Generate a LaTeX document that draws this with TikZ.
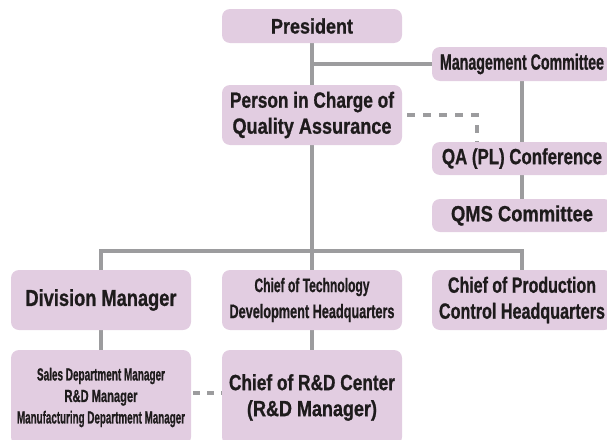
\documentclass[tikz,border=0pt]{standalone}
\usepackage{fontspec}
\setmainfont{Liberation Sans}[BoldFeatures={FakeBold=1.0}]
\usepackage{graphicx}
\usetikzlibrary{backgrounds}
\definecolor{boxfill}{HTML}{E2CDE1}
\definecolor{linegray}{HTML}{9C9C9E}
\definecolor{txt}{HTML}{1E1B1C}
\newcommand{\tw}[2]{\resizebox{#1pt}{\height}{#2}}
\begin{document}
\begin{tikzpicture}[x=1pt,y=-1pt,
  orgbox/.style={fill=boxfill, rounded corners=8pt, text=txt, align=center,
    inner sep=0pt, minimum width=180pt},
  big/.style={font=\fontsize{22}{26}\selectfont\bfseries},
  small/.style={font=\fontsize{19.5}{26}\selectfont\bfseries},
  tiny/.style={font=\fontsize{17.5}{21.5}\selectfont\bfseries},
  conn/.style={draw=linegray, line width=4.5pt},
  dconn/.style={draw=linegray, line width=4pt, dash pattern=on 8pt off 8pt}]
\useasboundingbox (0,0) rectangle (607,439);
\clip (0,0) rectangle (607,439);
\node[orgbox, big, minimum height=34pt, font=\fontsize{21}{20}\selectfont\bfseries] (pres) at (312,26) {\tw{82}{President}};
\node[orgbox, big, minimum height=60pt] (pic) at (312,115) {\tw{164}{Person in Charge of}\\\tw{159}{Quality Assurance}};
\node[orgbox, big, minimum height=34pt] (mgmt) at (522,64) {\tw{164}{Management Committee}};
\node[orgbox, big, minimum height=33pt] (qa) at (522,158.5) {\tw{160}{QA (PL) Conference}};
\node[orgbox, big, minimum height=33pt] (qms) at (522,215.5) {\tw{142}{QMS Committee}};
\node[orgbox, big, minimum height=60pt, font=\fontsize{23}{26}\selectfont\bfseries] (div) at (101,300) {\tw{151}{Division Manager}};
\node[orgbox, small, minimum height=60pt] (tech) at (312,300) {\tw{115}{Chief of Technology}\\\tw{165}{Development Headquarters}};
\node[orgbox, big, minimum height=60pt] (prod) at (522,300) {\tw{148}{Chief of Production}\\\tw{166}{Control Headquarters}};
\node[orgbox, tiny, minimum height=95pt] (sales) at (101,397.5) {\tw{128}{Sales Department Manager}\\\tw{73}{R\&D Manager}\\\tw{168}{Manufacturing Department Manager}};
\node[orgbox, big, minimum height=95pt] (rdc) at (312,397.5) {\tw{166}{Chief of R\&D Center}\\\tw{130}{(R\&D Manager)}};
\coordinate (dcorner) at (477,115);
\begin{scope}[on background layer]
\draw[conn] (pres.south) -- (tech.north);
\draw[conn] (mgmt.west) -- (mgmt.west -| pres.south);
\draw[conn] (mgmt.south) -- (qa.north);
\draw[conn] (qa.south) -- (qms.north);
\draw[conn] (div.north) -- ++(0,-19) -| (prod.north);
\draw[conn] (div.south) -- (sales.north);
\draw[conn] (tech.south) -- (rdc.north);
\draw[dconn, dash phase=11pt] (pic.east) -- (dcorner) -- (dcorner |- qa.north);
\draw[dconn, dash pattern=on 7pt off 7pt, dash phase=12pt] ([yshift=4.5pt]sales.east) -- ([yshift=4.5pt]rdc.west);
\end{scope}
\end{tikzpicture}
\end{document}
